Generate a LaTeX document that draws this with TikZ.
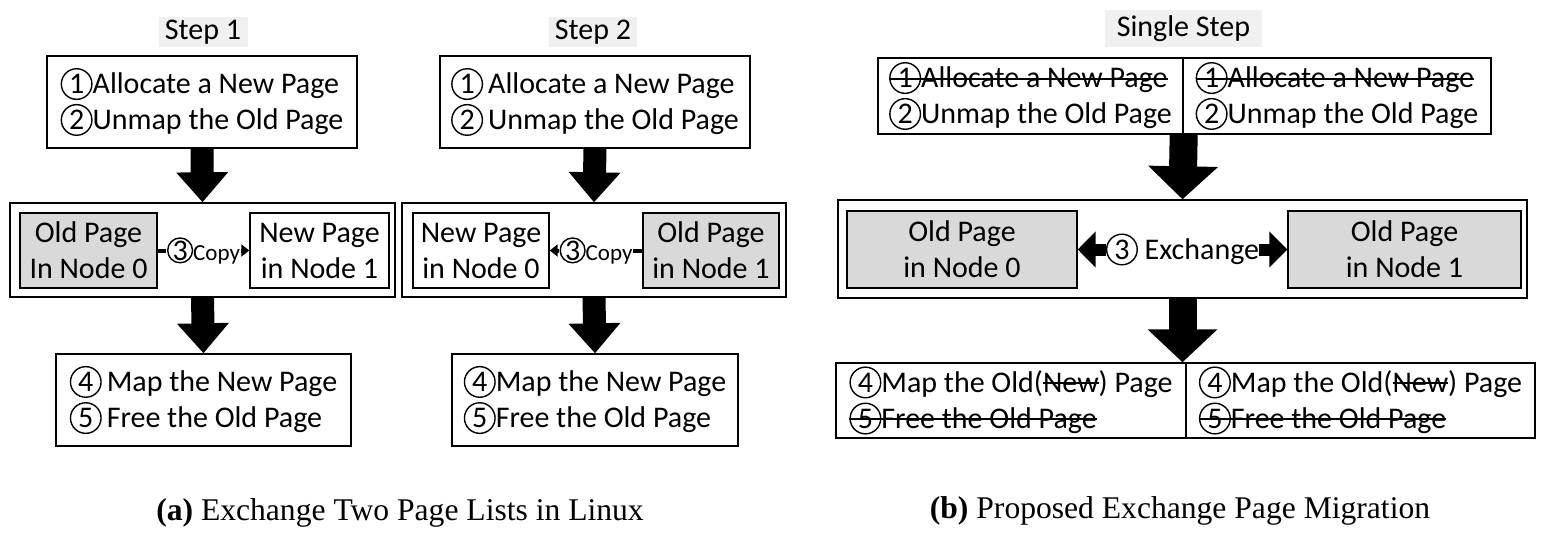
\documentclass[tikz,border=0pt]{standalone}
\usepackage{fontspec}
\setmainfont{Carlito}
\newfontfamily\capfont{Liberation Serif}
\usetikzlibrary{arrows.meta}
\definecolor{pagegray}{gray}{0.85}
\definecolor{labelgray}{gray}{0.94}
\newsavebox\strikebox
\newcommand{\strike}[1]{\sbox\strikebox{#1}\rlap{\rule[0.27em]{\wd\strikebox}{0.9pt}}\usebox\strikebox}
\newcommand{\cnum}[1]{\tikz[baseline=(cn.base)]\node[draw,circle,line width=0.7pt,inner sep=0pt,minimum size=1.02em] (cn) {#1};}

\begin{document}
\begin{tikzpicture}[x=0.5pt,y=-0.5pt,
  every node/.style={font=\fontsize{15pt}{18pt}\selectfont},
  box/.style={draw,line width=0.7pt,align=left,inner sep=0pt},
  page/.style={draw,line width=0.7pt,align=center,inner sep=0pt,minimum height=37.5pt},
  steplabel/.style={fill=labelgray,inner sep=0pt,minimum height=15pt},
  fatarrow/.style={line width=11.5pt,-{Triangle[width=25pt,length=15pt]}},
  bigarrow/.style={line width=14pt,-{Triangle[width=34pt,length=16.5pt]}},
  copyarrow/.style={line width=2pt,-{Triangle[width=6pt,length=4pt]}},
  swaparrow/.style={line width=6pt,{Triangle[width=17.5pt,length=9pt]}-{Triangle[width=17.5pt,length=9pt]}},
  capt/.style={font=\capfont\fontsize{15.8pt}{18pt}\selectfont}]
  \useasboundingbox (0,0) rectangle (1549,551);

  \node[steplabel,minimum width=44.5pt] (lab1) at (203,32) {Step 1};
  \node[box,minimum width=155pt,minimum height=46pt] (s1top) at (202,102) {\cnum{1}Allocate a New Page\\\cnum{2}Unmap the Old Page};
  \node[box,minimum width=192.5pt,minimum height=47pt] (s1mid) at (202.5,250) {};
  \node[page,fill=pagegray,minimum width=68.5pt] (s1old) at (88.5,250.5) {Old Page\\In Node 0};
  \node[page,minimum width=69.5pt] (s1new) at (319.5,250.5) {New Page\\in Node 1};
  \node[box,minimum width=147.5pt,minimum height=46pt] (s1bot) at (203.5,400) {\cnum{4}\,Map the New Page\\\cnum{5}\,Free the Old Page};
  \draw[fatarrow] (s1top.south) -- (s1mid.north);
  \draw[fatarrow] (s1mid.south) -- (s1bot.north);
  \draw[copyarrow] (s1old.east) -- (s1new.west) node[midway,fill=white,inner sep=0.5pt,font=\fontsize{11.5pt}{13pt}\selectfont] (cp1) {\cnum{3}Copy};

  \node[steplabel,minimum width=44pt] (lab2) at (593,32) {Step 2};
  \node[box,minimum width=155pt,minimum height=46pt] (s2top) at (595,102) {\cnum{1}\,Allocate a New Page\\\cnum{2}\,Unmap the Old Page};
  \node[box,minimum width=192pt,minimum height=47pt] (s2mid) at (594,250) {};
  \node[page,minimum width=68pt] (s2new) at (481,250.5) {New Page\\in Node 0};
  \node[page,fill=pagegray,minimum width=68pt] (s2old) at (711,250.5) {Old Page\\in Node 1};
  \node[box,minimum width=143pt,minimum height=46pt] (s2bot) at (595,400) {\cnum{4}Map the New Page\\\cnum{5}Free the Old Page};
  \draw[fatarrow] (s2top.south) -- (s2mid.north);
  \draw[fatarrow] (s2mid.south) -- (s2bot.north);
  \draw[copyarrow] (s2old.west) -- (s2new.east) node[midway,fill=white,inner sep=0.5pt,font=\fontsize{11.5pt}{13pt}\selectfont] (cp2) {\cnum{3}Copy};

  \node[steplabel,minimum width=78.5pt,minimum height=18.5pt] (lab3) at (1183.5,28.5) {Single Step};
  \node[box,minimum width=152.5pt,minimum height=38pt] (btl) at (1030.5,96) {\strike{\cnum{1}Allocate a New Page}\\\cnum{2}Unmap the Old Page};
  \node[box,minimum width=154pt,minimum height=38pt] (btr) at (1337,96) {\strike{\cnum{1}Allocate a New Page}\\\cnum{2}Unmap the Old Page};
  \node[box,minimum width=344.5pt,minimum height=49pt] (bmid) at (1182.5,249) {};
  \node[page,fill=pagegray,minimum width=115pt,minimum height=38.5pt] (bold0) at (962,249.5) {Old Page\\in Node 0};
  \node[page,fill=pagegray,minimum width=116.5pt,minimum height=38.5pt] (bold1) at (1404.5,249.5) {Old Page\\in Node 1};
  \node[box,minimum width=175pt,minimum height=37.5pt] (bbl) at (1011,400.5) {\cnum{4}Map the Old(\strike{New}) Page\\\strike{\cnum{5}Free the Old Page}};
  \node[box,minimum width=174.5pt,minimum height=37.5pt] (bbr) at (1360.5,400.5) {\cnum{4}Map the Old(\strike{New}) Page\\\strike{\cnum{5}Free the Old Page}};
  \draw[bigarrow] (btl.south east) -- (bmid.north);
  \draw[bigarrow] (bmid.south) -- (bmid.south |- bbl.north);
  \draw[swaparrow] (bold0.east) -- (bold1.west) node[midway,fill=white,inner sep=0pt] (xc) {\cnum{3} Exchange};

  \node[capt] (capa) at (400,513) {\textbf{(a)} Exchange Two Page Lists in Linux};
  \node[capt] (capb) at (1180,511) {\textbf{(b)} Proposed Exchange Page Migration};
\end{tikzpicture}
\end{document}
